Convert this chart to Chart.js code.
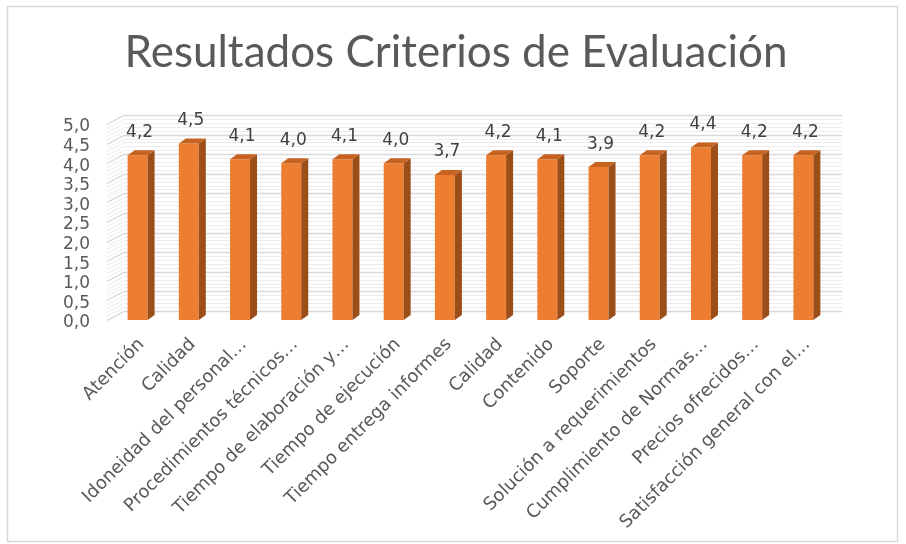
<!DOCTYPE html>
<html>
<head>
<meta charset="utf-8">
<script src="https://cdn.jsdelivr.net/npm/chart.js@4.4.1/dist/chart.umd.min.js"></script>
<style>
  html, body { margin: 0; padding: 0; background: #fff; }
  #grafico { display: block; }
</style>
</head>
<body>
<canvas id="grafico" width="906" height="544"></canvas>
<script>
const titulo = 'Resultados Criterios de Evaluación';
const categorias = [
  'Atención', 'Calidad', 'Idoneidad del personal…', 'Procedimientos técnicos…',
  'Tiempo de elaboración y…', 'Tiempo de ejecución', 'Tiempo entrega informes',
  'Calidad', 'Contenido', 'Soporte', 'Solución a requerimientos',
  'Cumplimiento de Normas…', 'Precios ofrecidos…', 'Satisfacción general con el…'
];
const valores = [4.2, 4.5, 4.1, 4.0, 4.1, 4.0, 3.7, 4.2, 4.1, 3.9, 4.2, 4.4, 4.2, 4.2];
const ejeMin = 0;
const ejeMax = 5;
const ejePaso = 0.5;

const fuente = "'DejaVu Sans', sans-serif";
const gris = '#595959';
const naranja = '#ED7D31';
const naranjaLado = '#9C4E19';
const naranjaTapa = '#C8631F';

const fmt = v => v.toFixed(1).replace('.', ',');

// profundidad del efecto 3D
const prof = { dx: 7, dy: 5 };
const pared = { dx: 17, dy: 9 };

const marco = {
  id: 'marco',
  beforeDraw(chart) {
    const ctx = chart.ctx;
    ctx.save();
    ctx.fillStyle = '#fff';
    ctx.fillRect(0, 0, chart.width, chart.height);
    ctx.strokeStyle = '#D9D9D9';
    ctx.lineWidth = 1.5;
    ctx.strokeRect(7.5, 6.5, 890, 535);
    // titulo
    ctx.fillStyle = gris;
    ctx.font = "44px Lato, sans-serif";
    ctx.textAlign = 'center';
    ctx.textBaseline = 'alphabetic';
    ctx.fillText(titulo, 456, 67);
    ctx.restore();
  }
};

const paredFondo = {
  id: 'paredFondo',
  beforeDatasetsDraw(chart) {
    const ctx = chart.ctx;
    const y = chart.scales.y;
    const a = chart.chartArea;
    const x0 = a.left - 5;
    const x1 = x0 + pared.dx;
    const x2 = a.right + 13;
    ctx.save();
    // rayado fino
    ctx.lineWidth = 1;
    for (let v = ejeMin; v <= ejeMax + 1e-9; v += 0.1) {
      const py = Math.round(y.getPixelForValue(v)) + 0.5;
      ctx.strokeStyle = '#ECECEC';
      ctx.beginPath();
      ctx.moveTo(x0, py);
      ctx.lineTo(x1, py - pared.dy);
      ctx.lineTo(x2, py - pared.dy);
      ctx.stroke();
    }
    // lineas principales
    for (let v = ejeMin; v <= ejeMax + 1e-9; v += ejePaso) {
      const py = Math.round(y.getPixelForValue(v)) + 0.5;
      ctx.strokeStyle = '#D9D9D9';
      ctx.lineWidth = 1.3;
      ctx.beginPath();
      ctx.moveTo(x0, py);
      ctx.lineTo(x1, py - pared.dy);
      ctx.lineTo(x2, py - pared.dy);
      ctx.stroke();
    }
    ctx.restore();
  }
};

const barras3d = {
  id: 'barras3d',
  afterDatasetsDraw(chart) {
    const ctx = chart.ctx;
    const meta = chart.getDatasetMeta(0);
    ctx.save();
    meta.data.forEach((bar, i) => {
      const l = bar.x - bar.width / 2;
      const r = bar.x + bar.width / 2;
      const t = bar.y;
      const b = bar.base;
      ctx.fillStyle = naranjaLado;
      ctx.beginPath();
      ctx.moveTo(r, t);
      ctx.lineTo(r + prof.dx, t - prof.dy);
      ctx.lineTo(r + prof.dx, b - prof.dy);
      ctx.lineTo(r, b);
      ctx.closePath();
      ctx.fill();
      ctx.fillStyle = naranjaTapa;
      ctx.beginPath();
      ctx.moveTo(l, t);
      ctx.lineTo(l + prof.dx, t - prof.dy);
      ctx.lineTo(r + prof.dx, t - prof.dy);
      ctx.lineTo(r, t);
      ctx.closePath();
      ctx.fill();

      ctx.fillStyle = '#404040';
      ctx.font = "17px " + fuente;
      ctx.textAlign = 'center';
      ctx.textBaseline = 'middle';
      ctx.fillText(fmt(valores[i]), bar.x + 2, t - 23);
    });
    ctx.restore();
  }
};

new Chart(document.getElementById('grafico'), {
  type: 'bar',
  data: {
    labels: categorias,
    datasets: [{
      data: valores,
      backgroundColor: naranja,
      borderWidth: 0,
      categoryPercentage: 1,
      barPercentage: 0.39
    }]
  },
  options: {
    responsive: false,
    animation: false,
    layout: { padding: { left: 0, right: 77, top: 124, bottom: 0 } },
    plugins: {
      legend: { display: false },
      tooltip: { enabled: false },
      title: { display: false }
    },
    scales: {
      x: {
        grid: { display: false, drawTicks: false },
        border: { display: false },
        ticks: {
          autoSkip: false,
          minRotation: 45,
          maxRotation: 45,
          padding: 14,
          labelOffset: 4,
          color: gris,
          font: { family: fuente, size: 18 }
        },
        afterFit(s) { s.height = 224; }
      },
      y: {
        min: ejeMin,
        max: ejeMax,
        grid: { display: false, drawTicks: false },
        border: { display: false },
        ticks: {
          autoSkip: false,
          stepSize: ejePaso,
          padding: 22,
          labelOffset: 3,
          color: gris,
          font: { family: fuente, size: 17 },
          callback: v => fmt(v)
        },
        afterFit(s) { s.width = 112; }
      }
    }
  },
  plugins: [marco, paredFondo, barras3d]
});
</script>
</body>
</html>
